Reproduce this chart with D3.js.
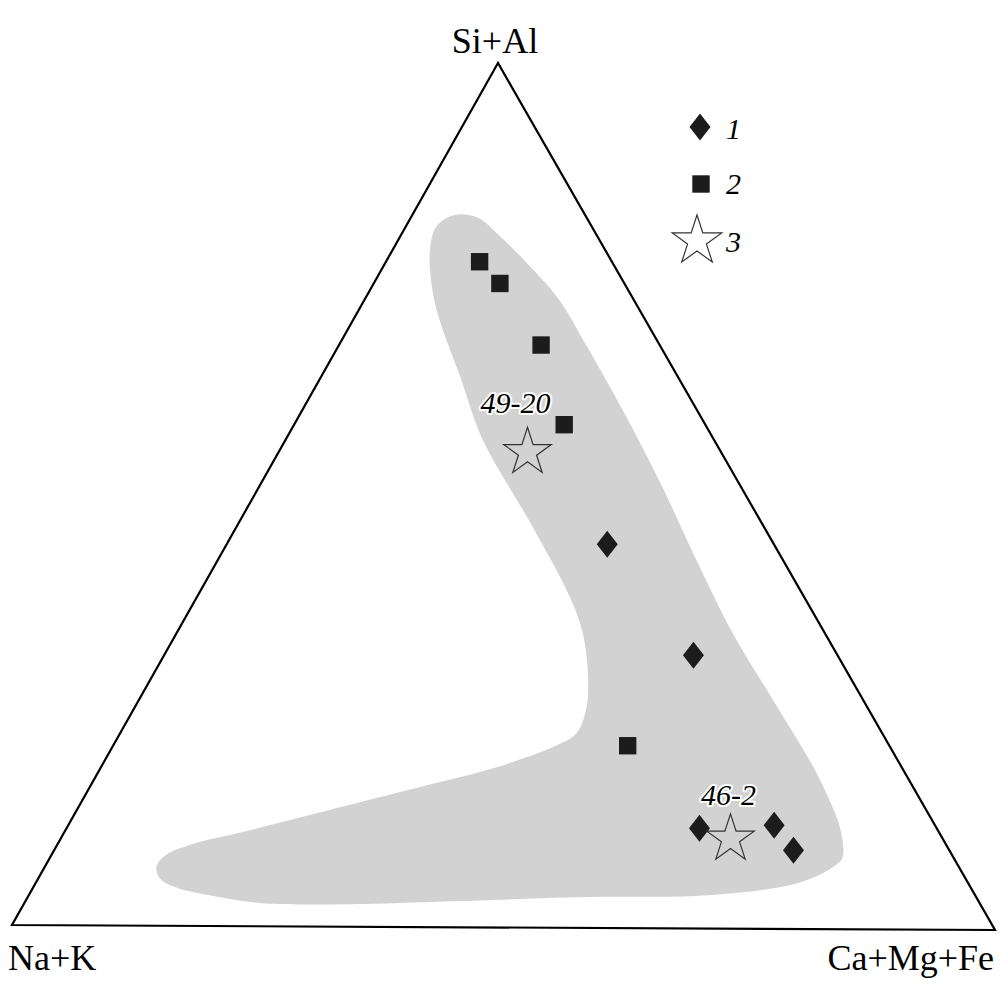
<!DOCTYPE html>
<html><head><meta charset="utf-8">
<script src="https://cdn.jsdelivr.net/npm/d3@7"></script>
<style>html,body{margin:0;padding:0;background:#fff;}svg{display:block;}
.serif{font-family:"Times New Roman","Liberation Serif",Times,serif;}</style>
</head><body>
<script>
// Ternary data: [Si+Al, Ca+Mg+Fe] in %, Na+K = 100 - both
const axisLabels = ["Si+Al", "Na+K", "Ca+Mg+Fe"];
const legendLabels = ["1", "2", "3"];
const group1 = [[44.4, 38.6], [31.6, 53.7], [11.6, 64.2], [12.0, 71.6], [9.1, 75.0]];
const group2 = [[77.0, 9.5], [74.5, 12.8], [67.4, 20.5], [58.2, 27.4], [21.1, 52.2]];
const group3 = [[55.1, 25.2], [10.5, 67.9]];
const group3Names = ["49-20", "46-2"];
const fieldOutline = [
  [78.3, 3.8], [81.1, 3.1], [82.4, 4.3], [82.1, 6.8], [79.9, 10.2], [76.1, 15.4], [72.6, 19.8],
  [67.2, 25.3], [59.1, 33.3], [51.5, 40.5], [41.8, 49.3], [34.2, 56.4], [26.5, 64.3], [18.8, 72.2],
  [14.9, 75.8], [11.5, 78.6], [8.2, 80.4], [7.0, 79.8], [5.8, 78.3], [4.9, 76.0], [4.1, 71.3],
  [3.7, 66.4], [3.6, 58.1], [3.0, 43.1], [2.6, 33.1], [2.7, 23.9], [3.4, 19.2], [4.4, 14.6],
  [5.5, 12.3], [6.9, 11.3], [8.2, 11.6], [9.4, 13.5], [11.1, 18.7], [14.1, 27.4], [16.2, 33.5],
  [18.2, 39.3], [20.9, 44.7], [22.5, 46.3], [25.6, 45.8], [29.5, 44.0], [34.1, 41.2], [38.3, 37.8],
  [46.8, 29.6], [56.4, 20.0], [63.7, 14.1], [70.2, 8.8], [73.9, 6.2]
];

const W = 1005, H = 1005;
const svg = d3.select("body").append("svg").attr("width", W).attr("height", H);

// Triangle corners (layout)
const A = [498, 63], B = [12, 925], C = [995, 930];
const frac = d3.scaleLinear().domain([0, 100]).range([0, 1]);
function proj(d) {
  const a = frac(d[0]), c = frac(d[1]), b = 1 - a - c;
  return [a * A[0] + b * B[0] + c * C[0], a * A[1] + b * B[1] + c * C[1]];
}

// field
svg.append("path")
  .datum(fieldOutline.map(proj))
  .attr("d", d3.line().curve(d3.curveCatmullRomClosed.alpha(0.5)))
  .attr("fill", "#d2d2d2").attr("stroke", "none");

// triangle
svg.append("path")
  .datum([[100, 0], [0, 0], [0, 100]].map(proj))
  .attr("d", d => "M" + d.join("L") + "Z")
  .attr("fill", "none").attr("stroke", "#000").attr("stroke-width", 2.2)
  .attr("stroke-linejoin", "miter");

// axis labels
svg.append("text").attr("class", "serif").attr("x", 495).attr("y", 53).attr("text-anchor", "middle")
  .attr("font-size", 36).text(axisLabels[0]);
svg.append("text").attr("class", "serif").attr("x", 8).attr("y", 970).attr("text-anchor", "start")
  .attr("font-size", 36).text(axisLabels[1]);
svg.append("text").attr("class", "serif").attr("x", 994).attr("y", 970).attr("text-anchor", "end")
  .attr("font-size", 36).text(axisLabels[2]);

const diamond = (x, y) => `M${x},${y - 13.5}L${x + 10.5},${y}L${x},${y + 13.5}L${x - 10.5},${y}Z`;
const square = (x, y) => `M${x - 8.7},${y - 8.7}h17.4v17.4h-17.4Z`;
function star(x, y, R) {
  const r = R * 0.382, pts = [];
  for (let i = 0; i < 10; i++) {
    const ang = -Math.PI / 2 + i * Math.PI / 5, rr = i % 2 ? r : R;
    pts.push([x + rr * Math.cos(ang), y + rr * Math.sin(ang)]);
  }
  return "M" + pts.join("L") + "Z";
}
const mark = "#1c1c1c";

svg.append("g").selectAll("path").data(group2).join("path")
  .attr("d", d => { const p = proj(d); return square(p[0], p[1]); }).attr("fill", mark);
svg.append("g").selectAll("path").data(group1).join("path")
  .attr("d", d => { const p = proj(d); return diamond(p[0], p[1]); }).attr("fill", mark);
svg.append("g").selectAll("path").data(group3).join("path")
  .attr("d", d => { const p = proj(d); return star(p[0], p[1] + 1, 25); })
  .attr("fill", "none").attr("stroke", "#333").attr("stroke-width", 1.2);

const labelDx = [-12, -2], labelDy = [-38, -33];
svg.append("g").selectAll("text").data(group3).join("text")
  .attr("class", "serif")
  .attr("x", (d, i) => proj(d)[0] + labelDx[i])
  .attr("y", (d, i) => proj(d)[1] + labelDy[i])
  .attr("text-anchor", "middle")
  .attr("font-style", "italic").attr("font-size", 30)
  .attr("fill", "#000").attr("stroke", "#fff").attr("stroke-width", 4)
  .attr("paint-order", "stroke").attr("stroke-linejoin", "round")
  .text((d, i) => group3Names[i]);

// legend
const lg = svg.append("g");
lg.append("path").attr("d", diamond(700, 127)).attr("fill", mark);
lg.append("path").attr("d", square(701, 184)).attr("fill", mark);
lg.append("path").attr("d", star(697, 241, 26)).attr("fill", "none").attr("stroke", "#333").attr("stroke-width", 1.2);
const ly = [139, 194, 252];
lg.selectAll("text").data(legendLabels).join("text")
  .attr("class", "serif")
  .attr("x", 726).attr("y", (d, i) => ly[i])
  .attr("font-style", "italic").attr("font-size", 30)
  .text(d => d);
</script>
</body></html>
